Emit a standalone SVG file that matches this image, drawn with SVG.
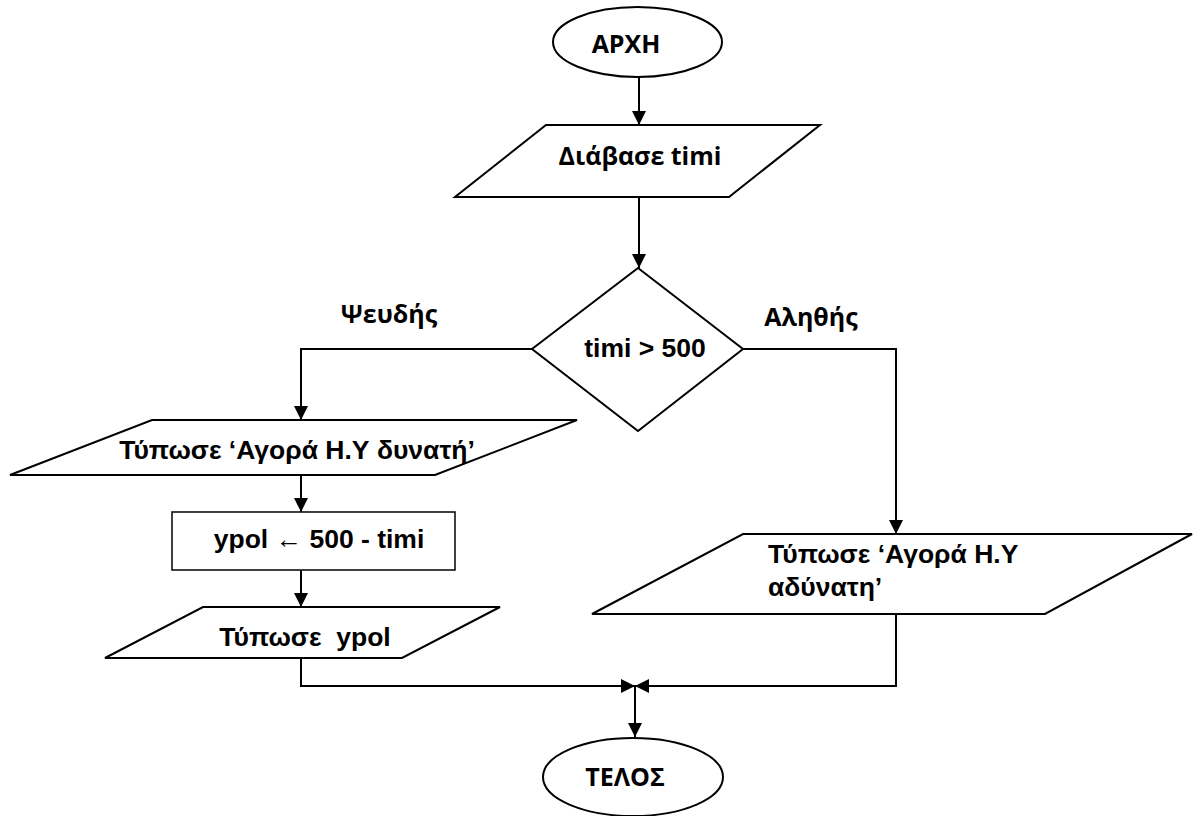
<svg xmlns="http://www.w3.org/2000/svg" width="1193" height="816" viewBox="0 0 1193 816">
  <style>
    .shape { fill: #fff; stroke: #000; stroke-width: 2; }
    .box { fill: #fff; stroke: #111; stroke-width: 1.6; }
    .conn { fill: none; stroke: #000; stroke-width: 2; marker-end: url(#arrow); }
    .os { font-family: "Open Sans", "DejaVu Sans", sans-serif; font-weight: bold; font-size: 25px; fill: #000; }
    .ar { font-family: "Liberation Sans", Arial, sans-serif; font-weight: bold; font-size: 26.5px; fill: #000; white-space: pre; }
    .mid { text-anchor: middle; }
  </style>
  <defs>
    <marker id="arrow" viewBox="0 0 14 14" refX="14" refY="7" markerWidth="14" markerHeight="14" markerUnits="userSpaceOnUse" orient="auto">
      <path d="M0,0 L14,7 L0,14 z" fill="#000"/>
    </marker>
  </defs>

  <!-- connectors -->
  <g id="connectors">
    <path class="conn" d="M639,77 V125"/>
    <path class="conn" d="M639,197 V268"/>
    <path class="conn" d="M532,349 H301 V420"/>
    <path class="conn" d="M743,349 H896 V534"/>
    <path class="conn" d="M301,475 V512"/>
    <path class="conn" d="M301,570 V607"/>
    <path class="conn" d="M301,658 V686 H635"/>
    <path class="conn" d="M896,614 V686 H635"/>
    <path class="conn" d="M635,686 V737"/>
  </g>

  <!-- branch labels -->
  <g id="labels">
    <text class="os mid" x="389" y="323">Ψευδής</text>
    <text class="os mid" x="811" y="326">Αληθής</text>
  </g>

  <!-- start -->
  <g id="start">
    <ellipse class="shape" cx="637.5" cy="42" rx="84.5" ry="35"/>
    <text class="os mid" x="626" y="53">ΑΡΧΗ</text>
  </g>

  <!-- read price -->
  <g id="read">
    <polygon class="shape" points="546,125 820,125 729,197 455,197"/>
    <text class="os mid" x="640" y="165">Διάβασε timi</text>
  </g>

  <!-- decision -->
  <g id="decision">
    <polygon class="shape" points="638,268 743,349 638,431 532,349"/>
    <text class="ar mid" x="645" y="357">timi &gt; 500</text>
  </g>

  <!-- false branch -->
  <g id="print-possible">
    <polygon class="shape" points="152,420 577,420 435,475 10,475"/>
    <text class="ar mid" x="297" y="459">Τύπωσε ‘Αγορά Η.Υ δυνατή’</text>
  </g>

  <g id="assign">
    <rect class="box" x="172" y="512" width="283" height="58"/>
    <text class="ar mid" x="319" y="548">ypol <tspan font-weight="normal">←</tspan> 500 - timi</text>
  </g>

  <g id="print-rest">
    <polygon class="shape" points="203,607 500,607 402,658 105,658"/>
    <text class="ar mid" x="305" y="646">Τύπωσε  ypol</text>
  </g>

  <!-- true branch -->
  <g id="print-impossible">
    <polygon class="shape" points="743,534 1192,534 1045,614 592,614"/>
    <text class="ar" x="768" y="563">Τύπωσε ‘Αγορά Η.Υ</text>
    <text class="ar" x="768" y="596">αδύνατη’</text>
  </g>

  <!-- end -->
  <g id="end">
    <ellipse class="shape" cx="633" cy="777" rx="90" ry="39"/>
    <text class="os mid" x="625" y="786">ΤΕΛΟΣ</text>
  </g>
</svg>
